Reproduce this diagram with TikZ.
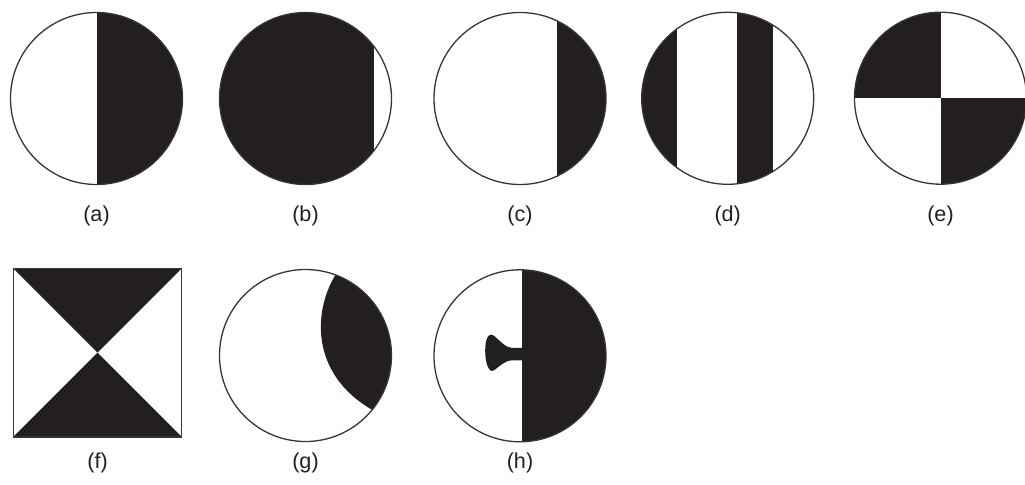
\documentclass[tikz,border=0pt]{standalone}
\usepackage{fontspec}
\setmainfont{Liberation Sans}
\usepackage{tikz}
\definecolor{inkblack}{RGB}{35,31,32}
\definecolor{rimgray}{RGB}{55,52,53}

\begin{document}
\begin{tikzpicture}[x=0.5pt, y=0.5pt,
    rim/.style={draw=rimgray, line width=0.65pt},
    ink/.style={fill=inkblack},
    caption/.style={font=\fontsize{10.8}{12}\selectfont, text=inkblack}]

\useasboundingbox (0,0) rectangle (1025,484);

% (a) split down the middle
\begin{scope}[shift={(96.5,385.5)}]
  \begin{scope}
    \clip (0,0) circle (86);
    \fill[ink] (0,-90) rectangle (90,90);
  \end{scope}
  \draw[rim] (0,0) circle (86);
\end{scope}

% (b) almost all black
\begin{scope}[shift={(305.5,385.5)}]
  \begin{scope}
    \clip (0,0) circle (86);
    \fill[ink] (-90,-90) rectangle (68.5,90);
  \end{scope}
  \draw[rim] (0,0) circle (86);
\end{scope}

% (c) narrow black segment
\begin{scope}[shift={(520,385.5)}]
  \begin{scope}
    \clip (0,0) circle (86);
    \fill[ink] (37.3,-90) rectangle (90,90);
  \end{scope}
  \draw[rim] (0,0) circle (86);
\end{scope}

% (d) stripes
\begin{scope}[shift={(727.7,385.7)}]
  \begin{scope}
    \clip (0,0) circle (86);
    \fill[ink] (-90,-90) rectangle (-51,90);
    \fill[ink] (9.3,-90) rectangle (45,90);
  \end{scope}
  \draw[rim] (0,0) circle (86);
\end{scope}

% (e) quadrants
\begin{scope}[shift={(940.5,385.8)}]
  \begin{scope}
    \clip (0,0) circle (86);
    \fill[ink] (-90,0) rectangle (0,90);
    \fill[ink] (0,-90) rectangle (90,0);
  \end{scope}
  \draw[rim] (0,0) circle (86);
\end{scope}

% (f) square with two triangles
\begin{scope}[shift={(97.5,131.3)}]
  \fill[ink] (-84.2,84.2) -- (84.2,84.2) -- (0,0) -- cycle;
  \fill[ink] (-84.2,-84.2) -- (84.2,-84.2) -- (0,0) -- cycle;
  \draw[rim] (-84.2,-84.2) rectangle (84.2,84.2);
\end{scope}

% (g) crescent
\begin{scope}[shift={(305.5,128.5)}]
  \fill[ink] (69.6:86) .. controls (8,45) and (4,-18) .. (-39.2:86)
    arc[start angle=-39.2, end angle=69.6, radius=86] -- cycle;
  \draw[rim] (0,0) circle (86);
\end{scope}

% (h) half with a small bump
\begin{scope}[shift={(520,128.2)}]
  \begin{scope}
    \clip (0,0) circle (86);
    \fill[ink] (1.5,-90) rectangle (90,90);
  \end{scope}
  \fill[ink] (3,8) -- (-8.5,8)
    .. controls (-14,8) and (-20,15) .. (-26,20)
    .. controls (-29,22.5) and (-32.5,21) .. (-33.8,15)
    .. controls (-35.5,8) and (-35,-4) .. (-32.5,-10)
    .. controls (-31,-14) and (-29,-16.5) .. (-26,-14.5)
    .. controls (-20,-10) and (-14,-4.5) .. (-8.5,-4.5)
    -- (3,-4.5) -- cycle;
  \draw[rim] (0,0) circle (86);
\end{scope}

% Captions
\node[caption] (capA) at (96.5,268) {(a)};
\node[caption] (capB) at (305.5,268) {(b)};
\node[caption] (capC) at (520,268) {(c)};
\node[caption] (capD) at (727.7,268) {(d)};
\node[caption] (capE) at (940.5,268) {(e)};
\node[caption] (capF) at (97.5,21) {(f)};
\node[caption] (capG) at (305.5,21) {(g)};
\node[caption] (capH) at (520,21) {(h)};

\end{tikzpicture}
\end{document}
